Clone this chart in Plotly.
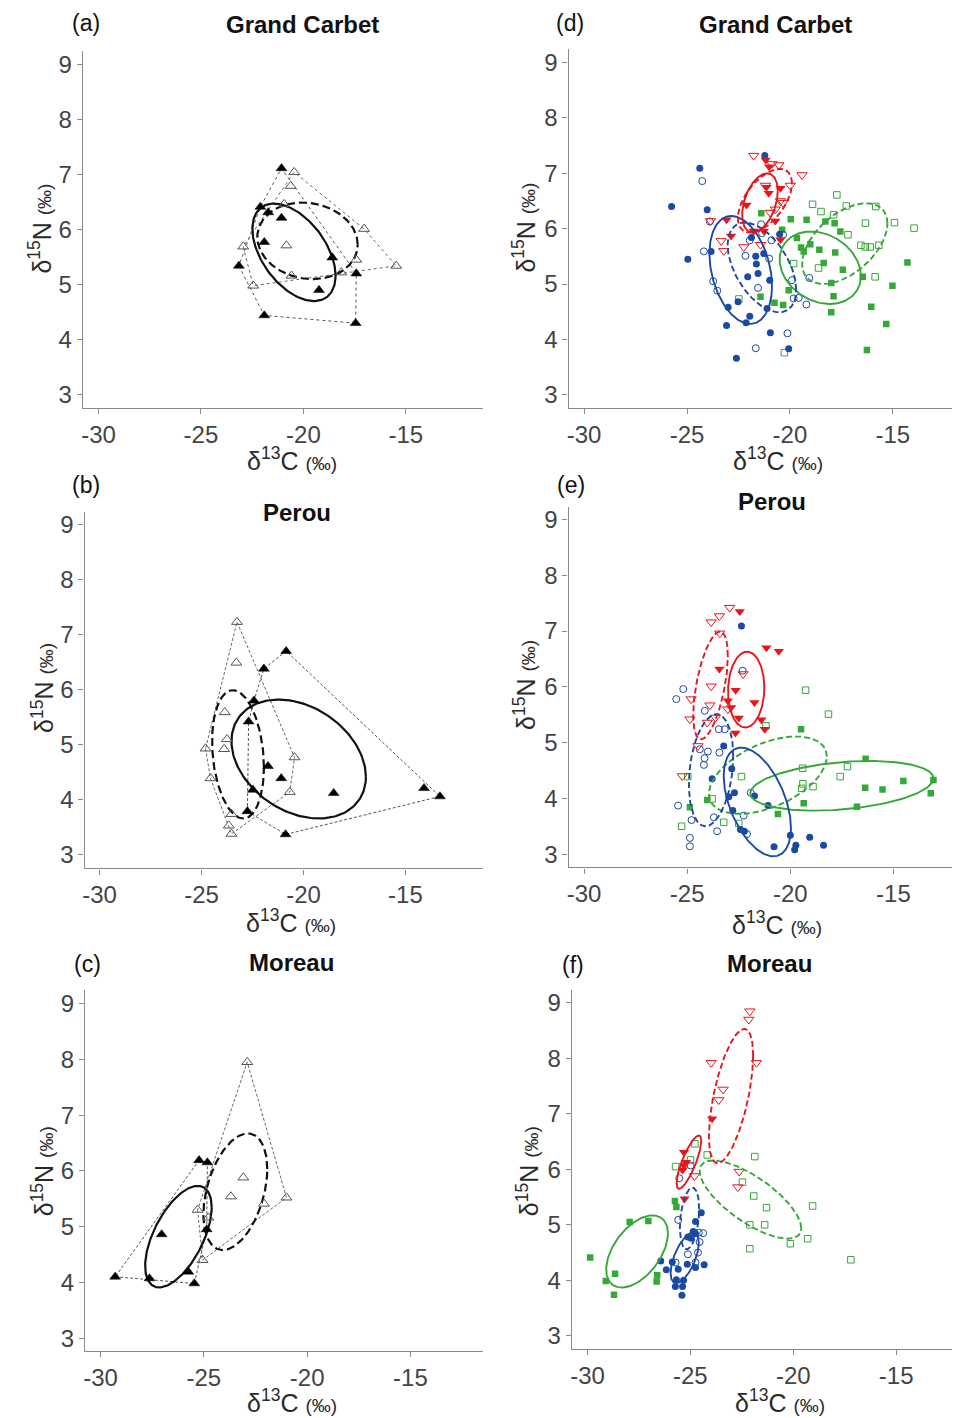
import numpy as np
import plotly.graph_objects as go

# page offset of the plot div inside the browser body (default 8px margin)
OFF = 8
W, H = 952, 1410

# ---------------- data ----------------
# (a) Grand Carbet - black/open triangles
a_fill_x = [-21.07, -22.10, -21.72, -21.07, -21.91, -23.15, -18.59, -17.42, -19.24, -21.91, -17.45]
a_fill_y = [7.11, 6.41, 6.31, 6.21, 5.77, 5.34, 5.49, 5.20, 4.90, 4.44, 4.30]
a_open_x = [-20.45, -20.62, -20.94, -20.83, -22.94, -17.04, -17.42, -15.47, -18.15, -20.58, -22.45]
a_open_y = [7.04, 6.79, 6.46, 5.71, 5.69, 6.01, 5.45, 5.34, 5.22, 5.16, 4.98]
# ellipse parameters: centre x, centre y, half-range x, half-range y, correlation
a_ell_fill = [-20.46, 5.585, 2.03, 0.885, -0.48]
a_ell_open = [-19.80, 5.795, 2.45, 0.695, -0.10]

# (b) Perou
b_fill_x = [-20.85, -21.94, -22.43, -22.69, -21.74, -21.09, -22.48, -18.52, -14.09, -13.31, -22.75, -20.88]
b_fill_y = [6.70, 6.38, 5.80, 5.42, 4.61, 4.39, 4.18, 4.12, 4.21, 4.06, 3.79, 3.37]
b_open_x = [-23.26, -23.29, -23.86, -23.75, -23.89, -24.80, -24.56, -20.44, -20.67, -23.53, -23.66, -23.53]
b_open_y = [7.23, 6.49, 5.59, 5.10, 4.92, 4.93, 4.39, 4.77, 4.14, 3.74, 3.53, 3.38]
b_ell_fill = [-20.235, 4.74, 3.295, 1.08, -0.30]
b_ell_open = [-23.21, 4.825, 1.27, 1.165, -0.20]

# (c) Moreau
c_fill_x = [-29.29, -27.63, -27.04, -25.75, -25.46, -25.23, -24.83, -24.86]
c_fill_y = [4.10, 4.07, 4.86, 4.19, 3.98, 6.19, 6.15, 4.95]
c_open_x = [-22.90, -23.09, -23.69, -22.09, -21.00, -25.30, -24.78, -25.06]
c_open_y = [7.95, 5.88, 5.54, 5.41, 5.52, 5.30, 5.16, 4.40]
c_ell_fill = [-26.23, 4.82, 1.61, 0.91, 0.58]
c_ell_open = [-23.475, 5.625, 1.545, 1.045, 0.39]

# (d) Grand Carbet - three groups
d_blue_fill_x = [-24.38, -25.75, -24.02, -23.83, -24.96, -21.22, -21.87, -21.66, -21.63, -21.27, -22.05,
                 -21.55, -20.98, -22.52, -23.00, -21.95, -22.13, -21.11, -23.08, -20.95, -20.06, -22.60, -20.50]
d_blue_fill_y = [7.09, 6.40, 6.34, 5.59, 5.45, 7.32, 5.84, 5.50, 5.36, 5.55, 5.13,
                 5.19, 5.07, 4.68, 4.58, 4.42, 4.30, 4.56, 4.25, 4.12, 3.83, 3.66, 5.90]
d_blue_open_x = [-24.26, -23.89, -24.18, -23.73, -23.53, -21.95, -22.16, -21.40, -21.35, -20.90, -21.01,
                 -21.55, -20.33, -19.90, -19.82, -19.57, -19.20, -19.06, -20.12, -21.66]
d_blue_open_y = [6.86, 6.13, 5.59, 5.05, 4.88, 5.79, 5.51, 6.08, 5.92, 5.79, 5.46,
                 4.93, 5.89, 5.07, 4.74, 4.75, 4.63, 5.11, 4.11, 3.84]
d_red_fill_x = [-21.18, -21.01, -21.14, -21.03, -20.46, -22.11, -23.08, -22.86, -21.76, -21.27, -20.71, -20.46]
d_red_fill_y = [7.24, 7.12, 6.75, 6.64, 6.73, 6.43, 6.16, 5.87, 5.96, 5.96, 6.14, 5.80]
d_red_open_x = [-21.76, -20.87, -20.54, -19.41, -19.98, -21.19, -20.46, -20.71, -20.95, -23.86, -23.34,
                -23.21, -22.24, -21.43, -20.33]
d_red_open_y = [7.32, 7.17, 7.15, 6.97, 6.78, 6.78, 6.50, 6.35, 6.29, 6.14, 5.78,
                5.60, 5.67, 5.71, 6.47]
d_green_fill_x = [-21.39, -19.96, -19.19, -18.28, -17.83, -17.55, -20.38, -19.66, -19.46, -19.33, -19.01,
                  -18.57, -17.80, -18.36, -17.43, -17.99, -16.46, -17.88, -17.99, -16.05, -15.32, -16.26,
                  -14.29, -15.02, -21.43, -20.75, -20.33, -20.06]
d_green_fill_y = [6.28, 6.17, 6.16, 6.13, 6.10, 5.95, 5.98, 5.83, 5.66, 5.59, 5.72,
                  5.62, 5.57, 5.38, 5.26, 5.02, 5.13, 4.78, 4.49, 4.59, 4.28, 3.81,
                  5.39, 4.97, 4.77, 4.66, 4.62, 4.89]
d_green_open_x = [-17.72, -18.90, -18.49, -17.88, -17.26, -15.83, -16.33, -14.92, -13.97, -17.18, -16.55,
                  -16.34, -16.10, -15.68, -18.61, -15.86, -19.82, -20.27, -22.48]
d_green_open_y = [6.61, 6.44, 6.31, 6.25, 6.41, 6.40, 6.10, 6.11, 6.01, 5.89, 5.70,
                  5.67, 5.67, 5.70, 5.29, 5.13, 5.37, 3.76, 4.73]
d_ell_blue_fill = [-22.39, 5.255, 1.52, 0.975, -0.30]
d_ell_blue_open = [-21.36, 5.30, 1.665, 0.81, -0.50]
d_ell_red_fill = [-21.455, 6.465, 0.865, 0.535, 0.40]
d_ell_red_open = [-21.215, 6.505, 1.315, 0.575, 0.55]
d_ell_green_fill = [-18.525, 5.295, 1.975, 0.655, -0.23]
d_ell_green_open = [-17.335, 5.73, 2.075, 0.73, 0.50]

# (e) Perou - three groups
e_red_fill_x = [-22.45, -21.16, -20.56, -23.44, -22.65, -21.74, -23.03, -22.87, -22.50, -21.40, -21.24, -22.66]
e_red_fill_y = [7.35, 6.70, 6.64, 6.32, 5.94, 5.72, 5.75, 5.63, 5.44, 5.41, 5.24, 5.17]
e_red_open_x = [-22.94, -23.44, -23.84, -23.42, -23.84, -24.81, -23.90, -23.03, -22.29, -24.87, -24.03,
                -23.63, -24.48, -25.24]
e_red_open_y = [7.42, 7.27, 7.16, 6.96, 6.01, 5.78, 5.67, 5.60, 6.23, 5.42, 5.36,
                5.45, 4.94, 4.40]
e_blue_fill_x = [-22.37, -23.23, -22.84, -23.79, -22.71, -22.98, -21.74, -21.08, -22.79, -22.42, -22.23,
                 -20.00, -19.06, -20.79, -19.73, -19.79, -18.39]
e_blue_fill_y = [7.09, 4.94, 4.53, 4.35, 4.10, 4.03, 4.04, 3.87, 3.78, 3.44, 3.41,
                 3.34, 3.30, 3.13, 3.16, 3.08, 3.16]
e_blue_open_x = [-22.31, -25.19, -25.53, -24.15, -23.47, -23.18, -24.39, -24.00, -23.44, -24.16, -24.19,
                 -25.44, -24.79, -23.71, -23.55, -22.26, -21.92, -24.87, -24.87, -22.10]
e_blue_open_y = [6.29, 5.96, 5.78, 5.57, 5.24, 5.24, 4.88, 4.84, 4.82, 4.72, 4.60,
                 3.87, 3.61, 3.66, 3.41, 3.69, 4.10, 3.29, 3.14, 3.36]
e_green_fill_x = [-19.48, -16.35, -14.52, -13.06, -16.37, -15.53, -13.19, -19.35, -16.77, -20.60, -24.03, -24.87]
e_green_fill_y = [5.24, 4.71, 4.31, 4.33, 4.19, 4.16, 4.09, 3.91, 3.85, 3.72, 3.97, 3.84]
e_green_open_x = [-19.26, -18.15, -21.18, -19.40, -17.23, -17.58, -19.39, -18.90, -19.45, -22.37, -24.97,
                  -23.79, -25.27, -23.23, -22.50]
e_green_open_y = [5.94, 5.51, 5.30, 4.54, 4.57, 4.39, 4.26, 4.21, 4.18, 4.39, 4.39,
                  3.99, 3.50, 3.57, 3.55]
e_ell_red_fill = [-22.14, 5.95, 0.88, 0.68, 0.05]
e_ell_red_open = [-23.87, 6.025, 0.84, 0.965, 0.55]
e_ell_blue_fill = [-21.60, 3.935, 1.63, 0.975, -0.48]
e_ell_blue_open = [-23.845, 4.505, 1.075, 1.005, 0.25]
e_ell_green_fill = [-17.50, 4.225, 4.44, 0.445, 0.30]
e_ell_green_open = [-21.09, 4.415, 2.86, 0.695, 0.48]

# (f) Moreau - three groups
f_red_fill_x = [-23.94, -25.31, -25.22, -25.31, -25.38, -25.28]
f_red_fill_y = [6.91, 6.31, 6.13, 6.07, 5.99, 5.47]
f_red_open_x = [-22.11, -22.16, -23.99, -21.79, -23.41, -23.62, -24.80, -22.63, -22.69]
f_red_open_y = [8.85, 8.70, 7.92, 7.92, 7.44, 7.25, 5.88, 5.96, 5.68]
f_blue_fill_x = [-24.47, -24.75, -24.86, -25.12, -24.96, -24.75, -26.44, -25.88, -26.17, -25.59, -25.68,
                 -25.33, -25.73, -25.38, -25.41, -24.75, -24.33, -25.15]
f_blue_fill_y = [5.22, 5.06, 4.88, 4.78, 4.76, 4.84, 4.35, 4.33, 4.19, 4.20, 4.01,
                 4.00, 3.89, 3.89, 3.73, 4.23, 4.28, 4.29]
f_blue_open_x = [-25.54, -25.59, -24.99, -24.59, -24.38, -24.55, -24.83, -24.63, -24.75, -25.12, -25.72]
f_blue_open_y = [5.84, 5.09, 6.07, 4.86, 4.85, 4.69, 4.86, 4.50, 4.32, 4.47, 4.32]
f_green_fill_x = [-29.87, -29.11, -28.66, -28.71, -27.95, -27.04, -25.75, -25.68, -26.61, -26.64]
f_green_fill_y = [4.41, 3.99, 4.12, 3.74, 5.05, 5.07, 5.43, 5.32, 4.09, 3.98]
f_green_open_x = [-24.78, -24.18, -25.72, -24.99, -21.87, -22.47, -21.92, -21.30, -22.11, -21.39, -22.11,
                  -20.14, -19.30, -19.06, -17.20]
f_green_open_y = [6.46, 6.26, 6.05, 6.17, 6.23, 5.77, 5.52, 5.31, 5.00, 5.00, 4.57,
                  4.66, 4.75, 5.34, 4.37]
f_ell_red_fill = [-25.07, 6.13, 0.60, 0.48, 0.80]
f_ell_red_open = [-23.025, 7.32, 1.075, 1.21, 0.60]
f_ell_blue_fill = [-25.275, 4.405, 0.685, 0.455, 0.60]
f_ell_blue_open = [-25.04, 5.115, 0.47, 0.555, 0.30]
f_ell_green_fill = [-27.59, 4.52, 1.50, 0.65, 0.50]
f_ell_green_open = [-22.08, 5.455, 2.47, 0.705, -0.73]

titles = ["Grand Carbet", "Perou", "Moreau", "Grand Carbet", "Perou", "Moreau"]
letters = ["(a)", "(b)", "(c)", "(d)", "(e)", "(f)"]
x_ticks = [-30, -25, -20, -15]
x_tick_text = ["-30", "-25", "-20", "-15"]
y_ticks = [3, 4, 5, 6, 7, 8, 9]
y_tick_text = ["3", "4", "5", "6", "7", "8", "9"]

# ---------------- helpers ----------------
def ellipse(p, n=200):
    cx, cy, rx, ry, rho = p
    t = np.linspace(0, 2 * np.pi, n)
    x = cx + rx * np.cos(t)
    y = cy + ry * (rho * np.cos(t) + np.sqrt(1 - rho ** 2) * np.sin(t))
    return x, y


def hull(xs, ys):
    pts = sorted(set(zip(xs, ys)))
    def cross(o, a, b):
        return (a[0] - o[0]) * (b[1] - o[1]) - (a[1] - o[1]) * (b[0] - o[0])
    lower, upper = [], []
    for p in pts:
        while len(lower) >= 2 and cross(lower[-2], lower[-1], p) <= 0:
            lower.pop()
        lower.append(p)
    for p in reversed(pts):
        while len(upper) >= 2 and cross(upper[-2], upper[-1], p) <= 0:
            upper.pop()
        upper.append(p)
    h = lower[:-1] + upper[:-1]
    h.append(h[0])
    return [p[0] for p in h], [p[1] for p in h]


def px2fx(px):
    return (px - OFF) / W


def px2fy(py):
    return 1 - (py - OFF) / H


fig = go.Figure()

# panel geometry in page pixels: x-domain, y-domain(top,bottom), tick pixel anchors
panels = {
    1: dict(xd=(81, 482), yd=(50, 407.3), xt=((-30, 96.7), (-15, 404.7)), yt=((9, 63.3), (3, 394.3))),
    2: dict(xd=(82.7, 482), yd=(511.7, 868.7), xt=((-30, 97.7), (-15, 404.3)), yt=((9, 524.3), (3, 855))),
    3: dict(xd=(83.3, 482), yd=(990, 1351.7), xt=((-30, 98.7), (-15, 409.3)), yt=((9, 1004), (3, 1339))),
    4: dict(xd=(567.7, 960), yd=(48.3, 407.3), xt=((-30, 583.3), (-15, 892.7)), yt=((9, 61.7), (3, 394.3))),
    5: dict(xd=(567.7, 960), yd=(506.7, 867.7), xt=((-30, 583.3), (-15, 893.3)), yt=((9, 519.3), (3, 854.3))),
    6: dict(xd=(571, 960), yd=(990, 1350), xt=((-30, 586.7), (-15, 896)), yt=((9, 1003.3), (3, 1336.7))),
}

AXCOL = "#8a8a8a"
TICKFONT = dict(family="Liberation Sans, Arial, sans-serif", size=24, color="#444444")

for i, p in panels.items():
    (v0, p0), (v1, p1) = p["xt"]
    sx = (p1 - p0) / (v1 - v0)
    xr = [v0 + (p["xd"][0] - p0) / sx, v0 + (p["xd"][1] - p0) / sx]
    (w0, q0), (w1, q1) = p["yt"]
    sy = (q1 - q0) / (w1 - w0)  # negative px per unit
    yr = [w0 + (p["yd"][1] - q0) / sy, w0 + (p["yd"][0] - q0) / sy]
    suffix = "" if i == 1 else str(i)
    common = dict(showline=True, linecolor=AXCOL, linewidth=1.3, ticks="outside", ticklen=5,
                  tickcolor=AXCOL, tickwidth=1.2, showgrid=False, zeroline=False,
                  tickfont=TICKFONT, fixedrange=True)
    fig.layout["xaxis" + suffix] = dict(domain=[max(0, px2fx(p["xd"][0])), min(1, px2fx(p["xd"][1]))],
                                        range=xr, tickvals=x_ticks, ticktext=x_tick_text,
                                        anchor="y" + suffix, **common)
    fig.layout["yaxis" + suffix] = dict(domain=[px2fy(p["yd"][1]), px2fy(p["yd"][0])], range=yr,
                                        tickvals=y_ticks, ticktext=y_tick_text,
                                        anchor="x" + suffix, **common)


def ax(i):
    return ("x", "y") if i == 1 else ("x%d" % i, "y%d" % i)


def add_line(i, x, y, color, width, dash):
    xa, ya = ax(i)
    fig.add_trace(go.Scatter(x=list(x), y=list(y), mode="lines", xaxis=xa, yaxis=ya,
                             line=dict(color=color, width=width, dash=dash),
                             hoverinfo="skip", showlegend=False))


def add_pts(i, x, y, symbol, size, color, lw=1.0, lcolor=None):
    xa, ya = ax(i)
    fig.add_trace(go.Scatter(x=x, y=y, mode="markers", xaxis=xa, yaxis=ya,
                             marker=dict(symbol=symbol, size=size, color=color,
                                         line=dict(width=lw, color=lcolor or color)),
                             showlegend=False))


# ---- left column: black triangles with hulls and ellipses ----
left = [
    (1, a_fill_x, a_fill_y, a_open_x, a_open_y, a_ell_fill, a_ell_open, "dot"),
    (2, b_fill_x, b_fill_y, b_open_x, b_open_y, b_ell_fill, b_ell_open, "3px,2px"),
    (3, c_fill_x, c_fill_y, c_open_x, c_open_y, c_ell_fill, c_ell_open, "3px,2px"),
]
for i, fx, fy, ox, oy, ef, eo, hd in left:
    hx, hy = hull(fx, fy)
    add_line(i, hx, hy, "#555555", 1, hd)
    hx, hy = hull(ox, oy)
    add_line(i, hx, hy, "#666666", 1, hd)
    ex, ey = ellipse(ef)
    add_line(i, ex, ey, "#111111", 2.2, "solid")
    ex, ey = ellipse(eo)
    add_line(i, ex, ey, "#111111", 2.2, "8px,4px")
    add_pts(i, ox, oy, "triangle-up-open", 9.5, "#555555", 1.0)
    add_pts(i, fx, fy, "triangle-up", 9.5, "#000000", 0.5)

# ---- right column: coloured groups ----
BLUE, RED, GREEN = "#1c49a3", "#e8161c", "#36a838"
right = [
    (4, d_green_fill_x, d_green_fill_y, d_green_open_x, d_green_open_y,
     d_blue_fill_x, d_blue_fill_y, d_blue_open_x, d_blue_open_y,
     d_red_fill_x, d_red_fill_y, d_red_open_x, d_red_open_y,
     d_ell_green_fill, d_ell_green_open, d_ell_blue_fill, d_ell_blue_open, d_ell_red_fill, d_ell_red_open),
    (5, e_green_fill_x, e_green_fill_y, e_green_open_x, e_green_open_y,
     e_blue_fill_x, e_blue_fill_y, e_blue_open_x, e_blue_open_y,
     e_red_fill_x, e_red_fill_y, e_red_open_x, e_red_open_y,
     e_ell_green_fill, e_ell_green_open, e_ell_blue_fill, e_ell_blue_open, e_ell_red_fill, e_ell_red_open),
    (6, f_green_fill_x, f_green_fill_y, f_green_open_x, f_green_open_y,
     f_blue_fill_x, f_blue_fill_y, f_blue_open_x, f_blue_open_y,
     f_red_fill_x, f_red_fill_y, f_red_open_x, f_red_open_y,
     f_ell_green_fill, f_ell_green_open, f_ell_blue_fill, f_ell_blue_open, f_ell_red_fill, f_ell_red_open),
]
for (i, gfx, gfy, gox, goy, bfx, bfy, box, boy, rfx, rfy, rox, roy,
     egf, ego, ebf, ebo, erf, ero) in right:
    add_pts(i, gox, goy, "square-open", 6.5, GREEN, 1.0)
    add_pts(i, gfx, gfy, "square", 6.5, GREEN, 0)
    add_pts(i, box, boy, "circle-open", 7, BLUE, 1.0)
    add_pts(i, bfx, bfy, "circle", 7, BLUE, 0)
    add_pts(i, rox, roy, "triangle-down-open", 9, RED, 1.0)
    add_pts(i, rfx, rfy, "triangle-down", 9, RED, 0)
    for prm, col, dash in [(egf, GREEN, "solid"), (ego, GREEN, "6px,3px"),
                           (ebf, BLUE, "solid"), (ebo, BLUE, "6px,3px"),
                           (erf, RED, "solid"), (ero, RED, "6px,3px")]:
        ex, ey = ellipse(prm)
        add_line(i, ex, ey, col, 1.9, dash)

# ---- annotations ----
ann = []
FONT = "Liberation Sans, Arial, sans-serif"


def A(text, x, y, size, bold=False, angle=0, color="#111111"):
    ann.append(dict(text=("<b>%s</b>" % text) if bold else text, x=px2fx(x), y=px2fy(y),
                    xref="paper", yref="paper", showarrow=False, xanchor="center", yanchor="middle",
                    textangle=angle, font=dict(family=FONT, size=size, color=color)))


letter_pos = [(84, 22), (84, 485), (86, 964), (569, 22), (570, 485), (572, 965)]
title_pos = [(301, 24), (296, 512), (290, 963), (775, 24), (772, 501), (769, 964)]
xt_pos = [(291, 459), (290, 921), (291, 1402), (778, 459), (777, 923), (780, 1402)]
yt_pos = [(38, 228), (41, 688), (41, 1172), (523, 227), (524, 685), (527, 1172)]

xlabel = "δ<sup>13</sup>C <span style='font-size:19px'>(‰)</span>"
ylabel = "δ<sup>15</sup>N <span style='font-size:19px'>(‰)</span>"
for k in range(6):
    A(letters[k], *letter_pos[k], 23)
    A(titles[k], *title_pos[k], 24, bold=True)
    A(xlabel, *xt_pos[k], 25, color="#2a2a2a")
    A(ylabel, *yt_pos[k], 25, angle=-90, color="#2a2a2a")

fig.update_layout(width=W, height=H, margin=dict(l=0, r=0, t=0, b=0),
                  paper_bgcolor="white", plot_bgcolor="white", showlegend=False,
                  annotations=ann)

fig.write_html("out.html")
